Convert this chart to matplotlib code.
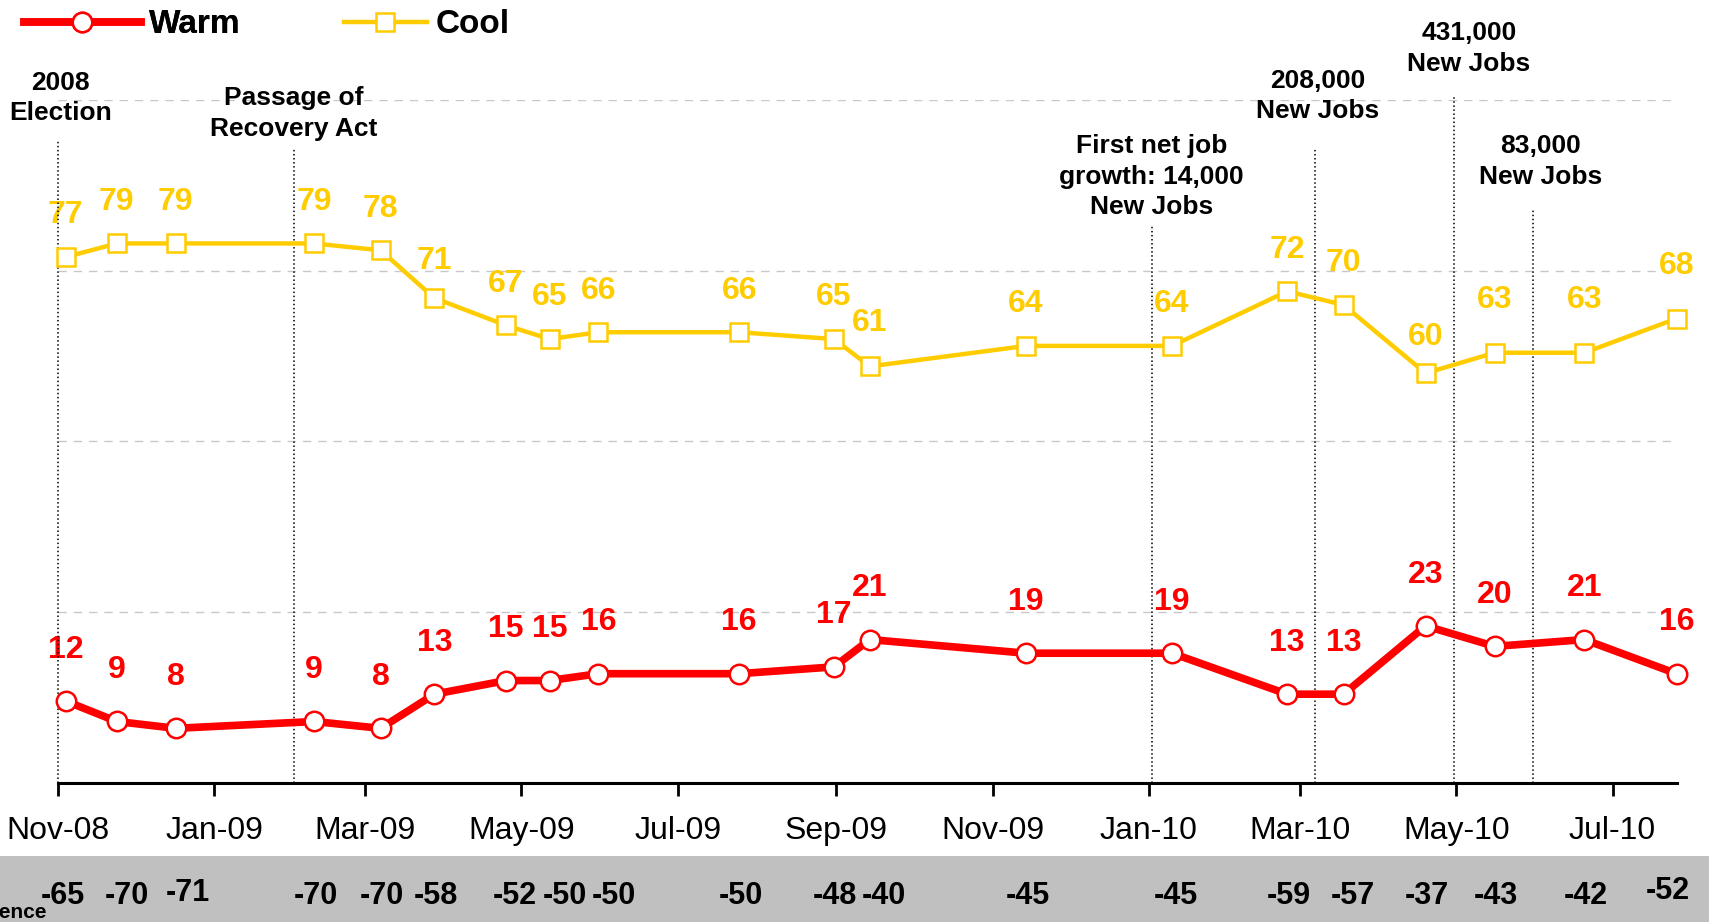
import matplotlib
matplotlib.use('Agg')
import matplotlib.pyplot as plt
import matplotlib.dates as mdates
import matplotlib.transforms as mtrans
from matplotlib.patches import Rectangle
from matplotlib.lines import Line2D
import pandas as pd

plt.rcParams['font.family'] = ['Liberation Sans', 'DejaVu Sans']

# survey dates and values
dates = pd.to_datetime(['2008-11-04', '2008-11-24', '2008-12-17', '2009-02-09', '2009-03-07',
                        '2009-03-28', '2009-04-25', '2009-05-12', '2009-05-31', '2009-07-25',
                        '2009-08-31', '2009-09-14', '2009-11-14', '2010-01-10', '2010-02-24',
                        '2010-03-18', '2010-04-19', '2010-05-16', '2010-06-20', '2010-07-26'])
warm = [12, 9, 8, 9, 8, 13, 15, 15, 16, 16, 17, 21, 19, 19, 13, 13, 23, 20, 21, 16]
cool = [77, 79, 79, 79, 78, 71, 67, 65, 66, 66, 65, 61, 64, 64, 72, 70, 60, 63, 63, 68]
diff = [-65, -70, -71, -70, -70, -58, -52, -50, -50, -50, -48, -40, -45, -45, -59, -57, -37, -43, -42, -52]

# event markers
event_dates = pd.to_datetime(['2008-11-01', '2009-02-01', '2010-01-02', '2010-03-07',
                              '2010-04-30', '2010-05-31'])
event_text = ['2008\nElection', 'Passage of\nRecovery Act', 'First net job\ngrowth: 14,000\nNew Jobs',
              '208,000\nNew Jobs', '431,000\nNew Jobs', '83,000\nNew Jobs']

# layout for the event notes
event_line_top = [94, 93, 81.5, 93, 100.5, 84]
event_text_y = [100.3, 98, 88.8, 100.6, 107.5, 91]
event_text_dx = [1, 0, 0, 1, 6, 3]

RED = '#FF0000'
GOLD = '#FFCC00'

fig = plt.figure(figsize=(17.09, 9.22), dpi=100)
ax = fig.add_axes([0.0339, 0.1508, 0.9471, 0.7407])

# grey band for the difference row
fig.patches.append(Rectangle((0, 0), 1, 0.0716, transform=fig.transFigure,
                             facecolor='#c0c0c0', edgecolor='none', zorder=-5))

ax.plot(dates, warm, color=RED, lw=5.5, marker='o', ms=14, mfc='white', mec=RED, mew=1.8,
        clip_on=False, zorder=5, label='Warm')
ax.plot(dates, cool, color=GOLD, lw=3.2, marker='s', ms=13, mfc='white', mec=GOLD, mew=1.8,
        clip_on=False, zorder=5, label='Cool')

cool_off = {16: 26, 11: 31, 17: 38, 18: 38, 19: 38, 5: 27}
for i, (d, w, c) in enumerate(zip(dates, warm, cool)):
    ax.annotate(str(w), (d, w), xytext=(0, 37), textcoords='offset points', ha='center',
                va='center', color=RED, fontsize=23, fontweight='bold', annotation_clip=False)
    ax.annotate(str(c), (d, c), xytext=(0, cool_off.get(i, 30)), textcoords='offset points',
                ha='center', va='center', color=GOLD, fontsize=23, fontweight='bold',
                annotation_clip=False)

# difference row
bt = mtrans.blended_transform_factory(ax.transData, fig.transFigure)
diff_dx = {0: -2, 1: 7, 2: 9, 6: 6, 7: 11, 8: 11, 11: 10, 13: 3, 15: 7, 19: -6}
diff_dy = {2: 2, 19: 4}
for i, (d, v) in enumerate(zip(dates, diff)):
    ax.annotate(str(v), (mdates.date2num(d), 0.028), xycoords=bt,
                xytext=(diff_dx.get(i, 1), diff_dy.get(i, 0)), textcoords='offset points',
                ha='center', va='center', fontsize=22, fontweight='bold',
                annotation_clip=False, zorder=6)
fig.text(0.0275, 0.010, 'Difference', ha='right', va='center', fontsize=15, fontweight='bold')

# events
for d, t, top, ty, dx in zip(event_dates, event_text, event_line_top, event_text_y, event_text_dx):
    ax.plot([d, d], [0, top], color='black', lw=1.1, ls=':', zorder=3, clip_on=False)
    ax.text(d + pd.Timedelta(days=dx), ty, t, ha='center', va='center', fontsize=19,
            fontweight='bold', linespacing=1.35, clip_on=False)

ax.set_ylim(0, 100)
ax.set_xlim(pd.Timestamp('2008-11-01'), pd.Timestamp('2010-07-26'))
ax.set_yticks([25, 50, 75, 100])
ax.yaxis.grid(True, color='#c8c8c8', ls=(0, (6, 5)), lw=1)
ax.tick_params(axis='y', length=0, labelleft=False)
ax.xaxis.set_major_locator(mdates.MonthLocator(bymonth=[1, 3, 5, 7, 9, 11]))
ax.xaxis.set_major_formatter(mdates.DateFormatter('%b-%y'))
ax.tick_params(axis='x', direction='out', length=9.5, width=2, pad=14, labelsize=23)
for s in ['left', 'top', 'right']:
    ax.spines[s].set_visible(False)
ax.spines['bottom'].set_linewidth(2.2)
ax.set_axisbelow(True)

# legend
h_warm = Line2D([], [], color=RED, lw=5.5, marker='o', ms=14, mfc='white', mec=RED, mew=1.8)
h_cool = Line2D([], [], color=GOLD, lw=3.2, marker='s', ms=13, mfc='white', mec=GOLD, mew=1.8)
leg1 = fig.legend([h_warm], ['Warm'], loc='center left', bbox_to_anchor=(0.014, 0.973),
                  frameon=False, borderpad=0, borderaxespad=0, handlelength=3.5,
                  handletextpad=0.25, numpoints=1, prop={'size': 24, 'weight': 'bold'})
fig.add_artist(leg1)
fig.legend([h_cool], ['Cool'], loc='center left', bbox_to_anchor=(0.201, 0.973),
           frameon=False, borderpad=0, borderaxespad=0, handlelength=2.5,
           handletextpad=0.25, numpoints=1, prop={'size': 24, 'weight': 'bold'})

fig.savefig('out.png', dpi=100)
